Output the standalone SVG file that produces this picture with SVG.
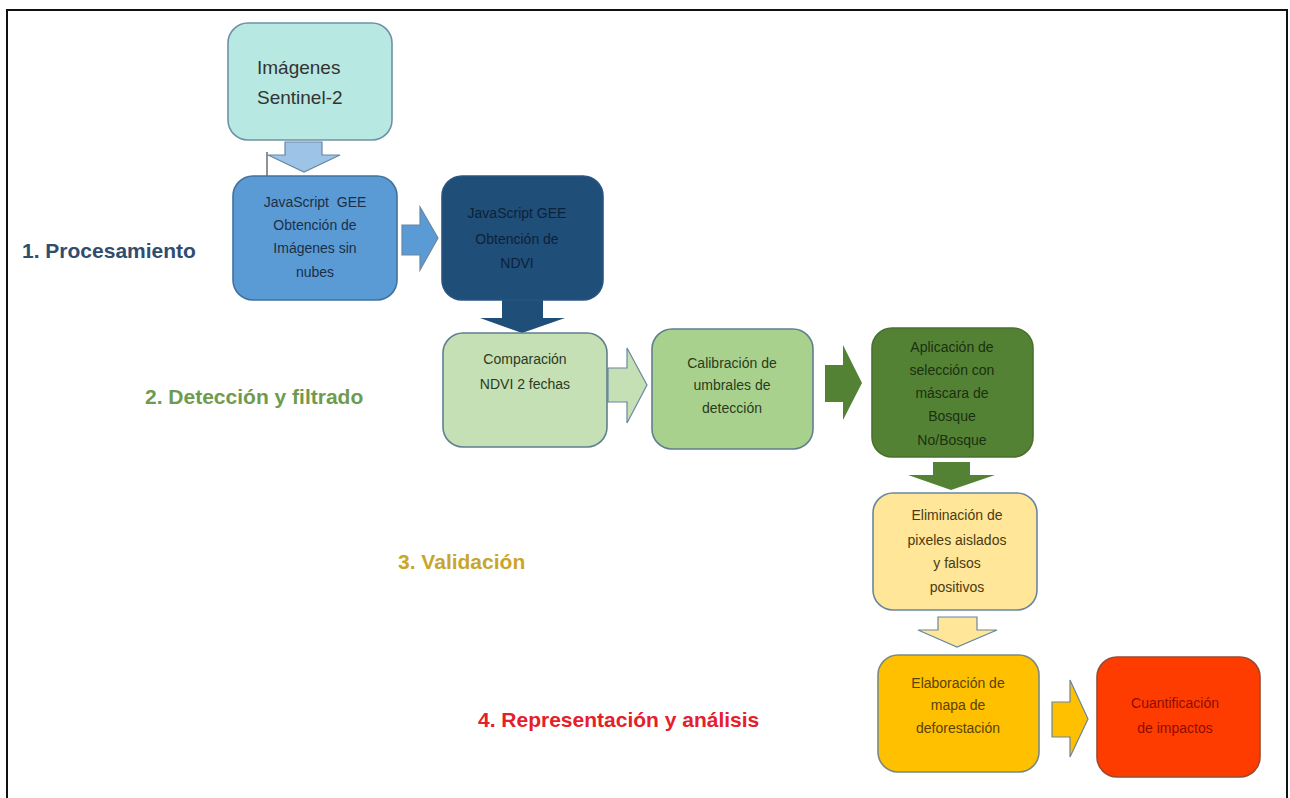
<svg xmlns="http://www.w3.org/2000/svg" width="1290" height="798" viewBox="0 0 1290 798">
<style>
  .box { stroke-width: 1.6; }
  .t { font-family: "Liberation Sans", Arial, sans-serif; font-size: 14px; text-anchor: middle; }
  .lbl { font-family: "Liberation Sans", Arial, sans-serif; font-size: 21px; font-weight: bold; }
  .arr { stroke: #6a86a0; stroke-width: 1.2; stroke-linejoin: miter; }
</style>
<rect x="0" y="0" width="1290" height="798" fill="#ffffff"/>
<path d="M7 798 V10 H1287 V798" fill="none" stroke="#111" stroke-width="2"/>

<g id="connectors">
  <polygon class="arr" fill="#9dc3e6" points="285,142 322,142 322,155 340,155 304,172 268,155 285,155"/>
  <line x1="267" y1="152" x2="267" y2="176" stroke="#222" stroke-width="1"/>
  <polygon class="arr" fill="#5b9bd5" stroke="#5b9bd5" points="402,225 420,225 420,207 438,238 420,270 420,255 402,255"/>
  <polygon fill="#1f4e79" points="502,300 543,300 543,318 565,318 522,333 480,318 502,318"/>
  <polygon class="arr" fill="#c5e0b4" points="608,368 627,368 627,348 647,385 627,423 627,402 608,402"/>
  <polygon fill="#548235" points="825,365 843,365 843,345 862,383 843,420 843,402 825,402"/>
  <polygon fill="#548235" points="933,462 970,462 970,475 995,475 951,490 908,475 933,475"/>
  <polygon class="arr" fill="#ffe699" points="938,617 977,617 977,630 997,630 957,647 918,630 938,630"/>
  <polygon class="arr" fill="#ffc000" points="1052,702 1070,702 1070,680 1088,719 1070,757 1070,737 1052,737"/>
</g>

<g id="label-1"><text class="lbl" x="22" y="258" fill="#2f4d6e">1. Procesamiento</text></g>
<g id="label-2"><text class="lbl" x="145" y="404" fill="#6e9b4f">2. Detección y filtrado</text></g>
<g id="label-3"><text class="lbl" x="398" y="569" fill="#c9a62a">3. Validación</text></g>
<g id="label-4"><text class="lbl" x="478" y="727" fill="#e5202a">4. Representación y análisis</text></g>

<g id="node-sentinel">
  <rect class="box" x="228" y="23" width="164" height="117" rx="20" fill="#b8e8e2" stroke="#7090a8"/>
  <text font-family="Liberation Sans, Arial, sans-serif" font-size="19" fill="#333" x="257" y="74">Imágenes</text>
  <text font-family="Liberation Sans, Arial, sans-serif" font-size="19" fill="#333" x="257" y="104">Sentinel-2</text>
</g>

<g id="node-gee-nubes">
  <rect class="box" x="233" y="176" width="164" height="124" rx="20" fill="#5b9bd5" stroke="#41719c"/>
  <text class="t" fill="#1a2f47" x="315" y="207">JavaScript&#160; GEE</text>
  <text class="t" fill="#1a2f47" x="315" y="230">Obtención de</text>
  <text class="t" fill="#1a2f47" x="315" y="253">Imágenes sin</text>
  <text class="t" fill="#1a2f47" x="315" y="277">nubes</text>
</g>

<g id="node-gee-ndvi">
  <rect class="box" x="442" y="176" width="161" height="124" rx="20" fill="#1f4e79" stroke="#2a5580"/>
  <text class="t" fill="#0c2238" x="517" y="218">JavaScript GEE</text>
  <text class="t" fill="#0c2238" x="517" y="244">Obtención de</text>
  <text class="t" fill="#0c2238" x="517" y="268">NDVI</text>
</g>

<g id="node-comparacion">
  <rect class="box" x="443" y="333" width="164" height="114" rx="20" fill="#c5e0b4" stroke="#5f7f8f"/>
  <text class="t" fill="#2c3a22" x="525" y="364">Comparación</text>
  <text class="t" fill="#2c3a22" x="525" y="389">NDVI 2 fechas</text>
</g>

<g id="node-calibracion">
  <rect class="box" x="652" y="329" width="161" height="120" rx="20" fill="#a9d18e" stroke="#5f7f8f"/>
  <text class="t" fill="#2a3b1c" x="732" y="368">Calibración de</text>
  <text class="t" fill="#2a3b1c" x="732" y="390">umbrales de</text>
  <text class="t" fill="#2a3b1c" x="732" y="413">detección</text>
</g>

<g id="node-mascara">
  <rect class="box" x="872" y="328" width="161" height="129" rx="20" fill="#548235" stroke="#4a7030"/>
  <text class="t" fill="#1a300f" x="952" y="352">Aplicación de</text>
  <text class="t" fill="#1a300f" x="952" y="375">selección con</text>
  <text class="t" fill="#1a300f" x="952" y="398">máscara de</text>
  <text class="t" fill="#1a300f" x="952" y="421">Bosque</text>
  <text class="t" fill="#1a300f" x="952" y="445">No/Bosque</text>
</g>

<g id="node-eliminacion">
  <rect class="box" x="873" y="493" width="164" height="117" rx="20" fill="#ffe699" stroke="#6a86a0"/>
  <text class="t" fill="#4a3b12" x="957" y="520">Eliminación de</text>
  <text class="t" fill="#4a3b12" x="957" y="545">pixeles aislados</text>
  <text class="t" fill="#4a3b12" x="957" y="568">y falsos</text>
  <text class="t" fill="#4a3b12" x="957" y="592">positivos</text>
</g>

<g id="node-mapa">
  <rect class="box" x="878" y="655" width="161" height="117" rx="20" fill="#ffc000" stroke="#7a8a80"/>
  <text class="t" fill="#5a4200" x="958" y="688">Elaboración de</text>
  <text class="t" fill="#5a4200" x="958" y="710">mapa de</text>
  <text class="t" fill="#5a4200" x="958" y="733">deforestación</text>
</g>

<g id="node-impactos">
  <rect class="box" x="1097" y="657" width="163" height="120" rx="20" fill="#ff3c00" stroke="#9a4a30"/>
  <text class="t" fill="#8e0c00" x="1175" y="708">Cuantificación</text>
  <text class="t" fill="#8e0c00" x="1175" y="733">de impactos</text>
</g>
</svg>
